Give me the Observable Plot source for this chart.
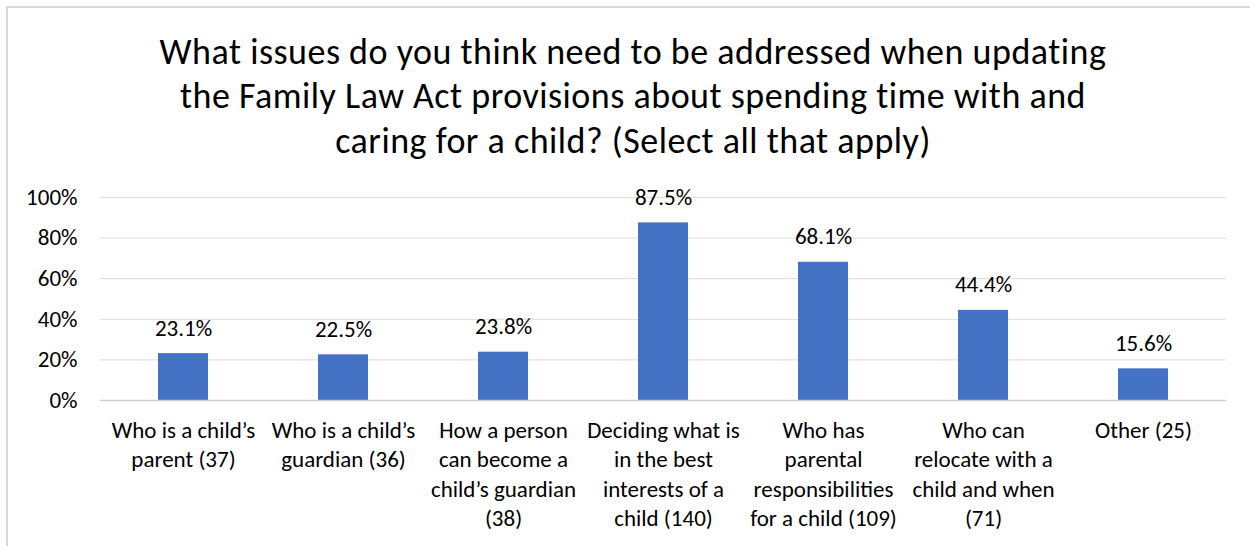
<!DOCTYPE html>
<html>
<head>
<meta charset="utf-8">
<script src="https://cdn.jsdelivr.net/npm/d3@7"></script>
<script src="https://cdn.jsdelivr.net/npm/@observablehq/plot@0.6"></script>
<style>
  html, body { margin: 0; padding: 0; background: #fff; overflow: hidden; }
  #wrap { position: relative; width: 1250px; height: 546px; overflow: hidden; }
  #frame { position: absolute; left: 6px; top: 6px; width: 1400px; height: 700px; border: 2px solid #d9d9d9; box-sizing: border-box; }
  #title { position: absolute; left: 0; top: 29.5px; width: 1266px; text-align: center;
           font-family: Carlito, Calibri, Lato, sans-serif; font-size: 36px; letter-spacing: 0.5px; line-height: 44.5px; color: #000; }
  #chart { position: absolute; left: 0; top: 170px; }
</style>
</head>
<body>
<div id="wrap">
  <div id="frame"></div>
  <div id="title">What issues do you think need to be addressed when updating<br>the Family Law Act provisions about spending time with and<br>caring for a child? (Select all that apply)</div>
  <div id="chart"></div>
</div>
<script>
const categories = [
  "Who is a child’s\nparent (37)",
  "Who is a child’s\nguardian (36)",
  "How a person\ncan become a\nchild’s guardian\n(38)",
  "Deciding what is\nin the best\ninterests of a\nchild (140)",
  "Who has\nparental\nresponsibilities\nfor a child (109)",
  "Who can\nrelocate with a\nchild and when\n(71)",
  "Other (25)"
];
const values = [0.231, 0.225, 0.238, 0.875, 0.681, 0.444, 0.156];
const yTicks = [0, 0.2, 0.4, 0.6, 0.8, 1.0];

const data = categories.map((c, i) => ({category: c, value: values[i]}));
const pct1 = d3.format(".1%");
const fs = 23;

const chart = Plot.plot({
  width: 1250,
  height: 376,
  marginTop: 27,
  marginBottom: 146,
  marginLeft: 100,
  marginRight: 24,
  style: {fontFamily: "Carlito, Calibri, Lato, sans-serif", fontSize: fs + "px", color: "#000", background: "transparent"},
  x: {domain: categories, paddingInner: 0.685, paddingOuter: 0.3425, label: null},
  y: {domain: [0, 1], label: null},
  marks: [
    Plot.ruleY(yTicks.filter(d => d > 0), {stroke: "#e3e3e3", strokeWidth: 1.3}),
    Plot.barY(data, {x: "category", y: "value", fill: "#4472C4"}),
    Plot.ruleY([0], {stroke: "#d0d0d0", strokeWidth: 1.6}),
    Plot.text(data, {x: "category", y: "value", text: d => pct1(d.value), dy: -25.4, lineAnchor: "middle", fontSize: fs, fill: "#000"}),
    Plot.axisY({ticks: yTicks, tickFormat: d3.format(".0%"), tickSize: 0, tickPadding: 23, fontSize: fs, label: null}),
    Plot.axisX({tickSize: 0, tickPadding: 17, lineHeight: 1.27, fontSize: fs, label: null})
  ]
});
document.getElementById("chart").appendChild(chart);
</script>
</body>
</html>
